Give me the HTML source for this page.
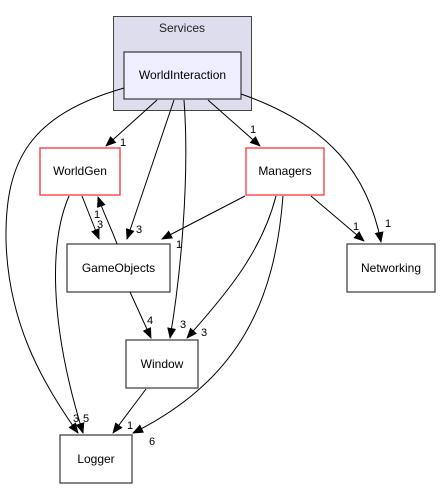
<!DOCTYPE html>
<html><head><style>body{margin:0;background:#fff}svg{display:block}text{font-family:"Liberation Sans",sans-serif}</style></head><body>
<svg width="440" height="489" viewBox="0 0 440 489" xmlns="http://www.w3.org/2000/svg">
<defs><marker id="a" markerWidth="11" markerHeight="9" refX="10" refY="4.5" orient="auto" markerUnits="userSpaceOnUse"><path d="M0,0 L11,4.5 L0,9 z" fill="#000"/></marker></defs>
<rect x="113.5" y="16.5" width="138" height="94" fill="#ddddee" stroke="#444" stroke-width="1"/>
<text x="182" y="32" font-size="12" text-anchor="middle" fill="#222">Services</text>
<rect x="124" y="52" width="117" height="47" fill="#eeeeff" stroke="#444" stroke-width="1.3"/>
<text x="182.5" y="79" font-size="12" text-anchor="middle">WorldInteraction</text>
<rect x="40" y="148" width="80" height="47" fill="#fff" stroke="#ff3333" stroke-width="1.3"/>
<text x="80" y="175" font-size="12" text-anchor="middle">WorldGen</text>
<rect x="246" y="148" width="78" height="47" fill="#fff" stroke="#ff3333" stroke-width="1.3"/>
<text x="285" y="175" font-size="12" text-anchor="middle">Managers</text>
<rect x="67" y="244" width="103" height="48" fill="#fff" stroke="#444" stroke-width="1.3"/>
<text x="118.5" y="272" font-size="12" text-anchor="middle">GameObjects</text>
<rect x="347" y="244" width="88" height="48" fill="#fff" stroke="#444" stroke-width="1.3"/>
<text x="391" y="272" font-size="12" text-anchor="middle">Networking</text>
<rect x="126" y="340" width="72" height="48" fill="#fff" stroke="#444" stroke-width="1.3"/>
<text x="162" y="368" font-size="12" text-anchor="middle">Window</text>
<rect x="60" y="435" width="72" height="48" fill="#fff" stroke="#444" stroke-width="1.3"/>
<text x="96" y="463" font-size="12" text-anchor="middle">Logger</text>
<g fill="none" stroke="#000" stroke-width="1" marker-end="url(#a)">
<path d="M157,100 L106,146"/>
<path d="M174,100 L127,239"/>
<path d="M184,100 C190,180 180,280 170,338"/>
<path d="M208,100 L260,146"/>
<path d="M241,94 C330,125 368,175 381,242"/>
<path d="M124,88 C30,115 5,160 6,240 C8,320 40,380 78,433"/>
<path d="M82,196 L99,239"/>
<path d="M117,244 C112,230 104,214 98,197"/>
<path d="M69,196 C50,240 48,320 83,433"/>
<path d="M245,196 L162,239"/>
<path d="M276,196 C262,250 230,290 187,338"/>
<path d="M283,196 C275,300 240,380 133,433"/>
<path d="M311,196 L364,241"/>
<path d="M130,292 L151,338"/>
<path d="M146,389 L113,433"/>
</g>
<g font-size="11" fill="#000">
<text x="120" y="146">1</text><text x="136" y="233">3</text><text x="180" y="328">3</text>
<text x="250" y="133">1</text><text x="385" y="227">1</text><text x="73" y="422">3</text>
<text x="97" y="228">3</text><text x="94" y="218">1</text><text x="83" y="422">5</text>
<text x="176" y="248">1</text><text x="201" y="336">3</text><text x="149" y="445">6</text>
<text x="353" y="230">1</text><text x="147" y="324">4</text><text x="127" y="429">1</text>
</g>
</svg>
</body></html>
